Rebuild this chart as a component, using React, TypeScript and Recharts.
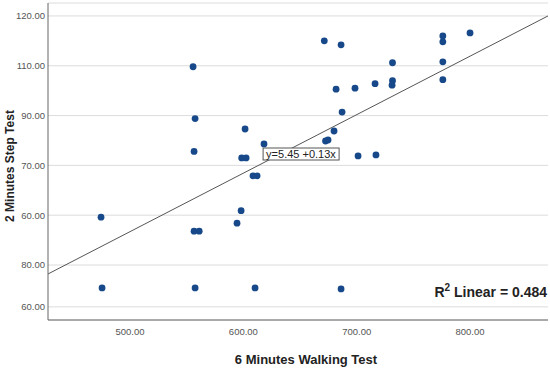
import React from 'react'
import {
  ScatterChart,
  Scatter,
  XAxis,
  YAxis,
  CartesianGrid,
  ReferenceLine,
  ReferenceDot,
} from 'recharts'

// 6MWT vs 2MST
const walkX = [
  474.4, 475.3, 555.6, 557.4, 556.5, 556.5, 561, 557.4, 601.5, 618.2, 598.5, 602.4, 608.5,
  612.1, 598, 594.4, 610.3, 671.4, 686.2, 681.8, 698.5, 716.2, 731.6, 731.6, 731.2, 687.1,
  680, 672.5, 674.7, 701.2, 717, 686.2, 776, 776, 800, 776, 776,
]
const stepY = [
  79.6, 65.4, 109.8, 99.4, 92.8, 76.8, 76.8, 65.4, 97.3, 94.3, 91.5, 91.5, 87.9,
  87.9, 80.9, 78.4, 65.4, 115.0, 114.2, 105.3, 105.5, 106.4, 110.6, 107.0, 106.1, 100.7,
  96.9, 94.9, 95.1, 91.9, 92.1, 65.2, 116.0, 114.8, 116.6, 110.8, 107.2,
]

// fit line end points as drawn
const fitX = [427.6, 868.8]
const fitY = [68.2, 120]

const xTicks = [500, 600, 700, 800]
// gridline positions and the labels printed next to them
const yTicks = [120, 110, 100, 90, 80, 70, 61.6]
const yTickLabels = ['120.00', '110.00', '90.00', '70.00', '60.00', '80.00', '60.00']

const equationText = 'y=5.45 +0.13x'
const rSquared = '0.484'

const points = walkX.map((x, i) => ({ x, y: stepY[i] }))

const FONT = '"Liberation Sans", Arial, sans-serif'
const DOT = '#17498a'

function EquationBox(props: any) {
  const { cx, cy } = props
  if (cx == null || cy == null) return null
  return (
    <g>
      <rect x={cx} y={cy - 12} width={76} height={12} fill="#fff" stroke="#555" strokeWidth={1} />
      <text x={cx + 3} y={cy - 2.5} fontSize={11} fontFamily={FONT} fill="#222">
        {equationText}
      </text>
    </g>
  )
}

export default function App() {
  return (
    <div style={{ position: 'absolute', left: 0, top: 0, width: 550, height: 371, background: '#fff' }}>
      <ScatterChart width={550} height={371} margin={{ top: 3, right: 2, left: 0, bottom: 6 }}>
        <CartesianGrid horizontal vertical={false} stroke="#dcdcdc" />
        <XAxis
          type="number"
          dataKey="x"
          domain={[fitX[0], fitX[1]]}
          ticks={xTicks}
          allowDataOverflow
          height={45}
          tickFormatter={(v: number) => v.toFixed(2)}
          tick={{ fontSize: 9.5, fill: '#555', fontFamily: FONT }}
          tickLine={false}
          tickSize={0}
          tickMargin={8}
          axisLine={{ stroke: '#666' }}
        />
        <YAxis
          type="number"
          dataKey="y"
          domain={[58.96, 122.6]}
          ticks={yTicks}
          allowDataOverflow
          width={48}
          tickFormatter={(v: number) => yTickLabels[yTicks.indexOf(v)] ?? ''}
          tick={{ fontSize: 9.5, fill: '#555', fontFamily: FONT }}
          tickLine={false}
          tickSize={0}
          tickMargin={3}
          axisLine={{ stroke: '#666' }}
        />
        <ReferenceLine
          segment={[
            { x: fitX[0], y: fitY[0] },
            { x: fitX[1], y: fitY[1] },
          ]}
          stroke="#555"
          strokeWidth={1}
          ifOverflow="visible"
        />
        <ReferenceDot x={617.4} y={91.08} shape={EquationBox} ifOverflow="visible" />
        <Scatter
          data={points}
          isAnimationActive={false}
          shape={(p: any) => <circle cx={p.cx} cy={p.cy} r={3.4} fill={DOT} />}
        />
        <text
          x={306}
          y={364}
          textAnchor="middle"
          fontSize={13}
          fontWeight="bold"
          fontFamily={FONT}
          fill="#222"
        >
          6 Minutes Walking Test
        </text>
        <text
          x={14}
          y={166}
          textAnchor="middle"
          transform="rotate(-90 14 166)"
          fontSize={12}
          fontWeight="bold"
          fontFamily={FONT}
          fill="#222"
        >
          2 Minutes Step Test
        </text>
        <text x={547} y={297} textAnchor="end" fontSize={14} fontWeight="bold" fontFamily={FONT} fill="#222">
          R<tspan fontSize={10} dy={-6}>2</tspan>
          <tspan dy={6}> Linear = {rSquared}</tspan>
        </text>
      </ScatterChart>
    </div>
  )
}
